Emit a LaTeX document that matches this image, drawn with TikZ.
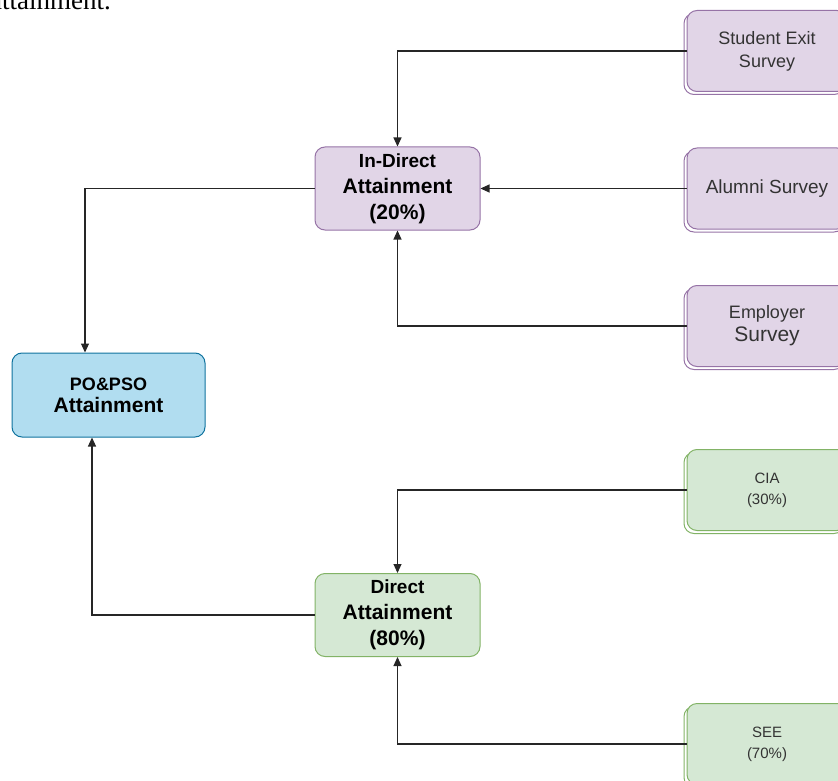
\documentclass[tikz,border=0pt]{standalone}
\usepackage{fontspec}
\setmainfont{Liberation Sans}
\newfontfamily\seriftext{Liberation Serif}
\usetikzlibrary{arrows.meta}
\definecolor{indfill}{HTML}{E1D5E7}
\definecolor{indline}{HTML}{9673A6}
\definecolor{dirfill}{HTML}{D5E8D4}
\definecolor{dirline}{HTML}{82B366}
\definecolor{pofill}{HTML}{B1DDF0}
\definecolor{poline}{HTML}{10739E}
\definecolor{srctext}{HTML}{333333}
\tikzset{
  box/.style={draw, rounded corners=10pt, line width=1pt, align=center, inner sep=2pt, text=black},
  midbox/.style={box, minimum width=165pt, minimum height=83pt, font=\bfseries\fontsize{21}{26}\selectfont},
  srcbox/.style={box, minimum width=160pt, minimum height=81pt, text=srctext, font=\fontsize{18}{23}\selectfont,
    preaction={draw, transform canvas={xshift=-3pt,yshift=-3pt}}},
  link/.style={-{Triangle[length=9pt,width=8pt]}, line width=1.1pt, draw=black!85}
}
\begin{document}
\begin{tikzpicture}[x=1pt,y=-1pt]
  \useasboundingbox (0,0) rectangle (838,781);
  \node[anchor=base west, inner sep=0, font=\seriftext\fontsize{27}{27}\selectfont] (frag) at (-10,10) {attainment.};

  \node[srcbox, fill=indfill, draw=indline] (exit) at (767,51) {Student Exit\\Survey};
  \node[srcbox, fill=indfill, draw=indline, font=\fontsize{19}{23}\selectfont] (alumni) at (767,188.5) {Alumni Survey};
  \node[srcbox, fill=indfill, draw=indline] (employer) at (767,326) {Employer\\{\fontsize{21}{23}\selectfont Survey}};
  \node[srcbox, fill=dirfill, draw=dirline, font=\fontsize{15}{21}\selectfont] (cia) at (767,490) {CIA\\(30\%)};
  \node[srcbox, fill=dirfill, draw=dirline, font=\fontsize{15}{21}\selectfont] (see) at (767,744) {SEE\\(70\%)};

  \node[midbox, fill=indfill, draw=indline] (indirect) at (397.5,188.5) {{\fontsize{19}{26}\selectfont In-Direct}\\Attainment\\(20\%)};
  \node[midbox, fill=dirfill, draw=dirline] (direct) at (397.5,615) {{\fontsize{19}{26}\selectfont Direct}\\Attainment\\(80\%)};
  \node[box, fill=pofill, draw=poline, minimum width=193pt, minimum height=84pt, font=\bfseries\fontsize{21}{22}\selectfont] (po) at (108.5,395) {{\fontsize{18}{22}\selectfont PO\&PSO}\\Attainment};

  \draw[link] (exit.west) -| (indirect.north);
  \draw[link] (alumni.west) -- (indirect.east);
  \draw[link] (employer.west) -| (indirect.south);
  \draw[link] (cia.west) -| (direct.north);
  \draw[link] (see.west) -| (direct.south);
  \draw[link] (indirect.west) -| ([xshift=-23.5pt]po.north);
  \draw[link] (direct.west) -| ([xshift=-16.5pt]po.south);
\end{tikzpicture}
\end{document}
